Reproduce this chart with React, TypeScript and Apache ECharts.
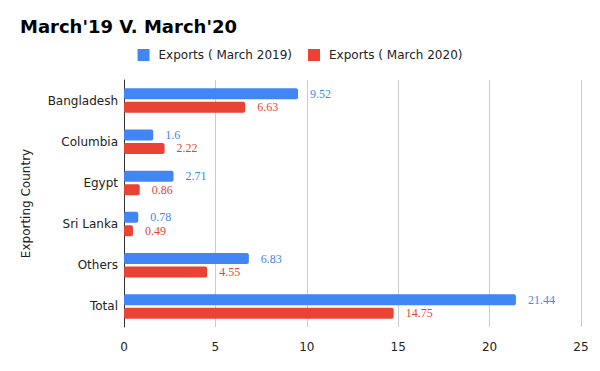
import React, { useEffect, useRef } from "react";
import * as echarts from "echarts";

const categories = ["Bangladesh", "Columbia", "Egypt", "Sri Lanka", "Others", "Total"];
const exports2019 = [9.52, 1.6, 2.71, 0.78, 6.83, 21.44];
const exports2020 = [6.63, 2.22, 0.86, 0.49, 4.55, 14.75];
const seriesNames = ["Exports ( March 2019)", "Exports ( March 2020)"];
const colors = ["#4285F4", "#EA4335"];

export default function App() {
  const ref = useRef<HTMLDivElement>(null);
  useEffect(() => {
    if (!ref.current) return;
    const chart = echarts.init(ref.current, undefined, { renderer: "svg" });
    const sans = "DejaVu Sans";
    const mkSeries = (name: string, data: number[], color: string) => ({
      name,
      type: "bar",
      data,
      barWidth: 11,
      barGap: "22%",
      itemStyle: { color, borderRadius: 2 },
      label: {
        show: true,
        position: "right",
        distance: 12,
        color,
        fontFamily: "Liberation Serif",
        fontSize: 12,
      },
    });
    chart.setOption({
      animation: false,
      title: {
        text: "March'19 V. March'20",
        left: 15,
        top: 12,
        textStyle: { fontFamily: sans, fontWeight: "bold", fontSize: 18, color: "#000" },
      },
      legend: {
        top: 44,
        left: "center",
        itemWidth: 12,
        itemHeight: 12,
        itemGap: 16,
        icon: "rect",
        textStyle: { fontFamily: sans, fontSize: 12, color: "#222", padding: [0, 0, 0, 4] },
        data: seriesNames,
      },
      grid: { left: 124, right: 19, top: 80, bottom: 44 },
      xAxis: {
        type: "value",
        min: 0,
        max: 25,
        interval: 5,
        axisLine: { show: false },
        axisTick: { show: false },
        axisLabel: { fontFamily: sans, fontSize: 12, color: "#222", margin: 14 },
        splitLine: { lineStyle: { color: "#cccccc", width: 1 } },
      },
      yAxis: {
        type: "category",
        data: categories,
        inverse: true,
        name: "Exporting Country",
        nameLocation: "middle",
        nameGap: 92,
        nameTextStyle: { fontFamily: sans, fontSize: 12, color: "#222" },
        axisLine: { lineStyle: { color: "#333", width: 1 } },
        axisTick: { show: false },
        axisLabel: { fontFamily: sans, fontSize: 12, color: "#222", margin: 6 },
      },
      series: [
        mkSeries(seriesNames[0], exports2019, colors[0]),
        mkSeries(seriesNames[1], exports2020, colors[1]),
      ],
    });
    return () => chart.dispose();
  }, []);
  return <div ref={ref} style={{ width: 600, height: 371, position: "absolute", left: 0, top: 0 }} />;
}
